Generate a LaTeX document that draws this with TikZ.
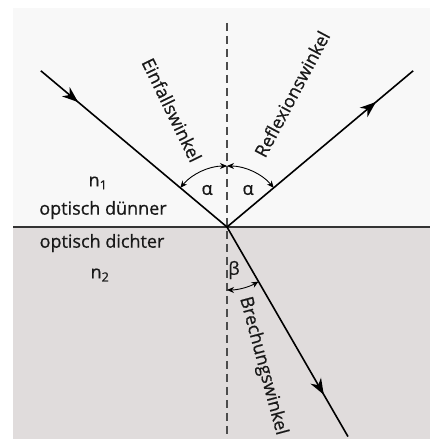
\documentclass[tikz,border=0pt]{standalone}
\usepackage{fontspec}
\setmainfont{Open Sans}[FakeBold=0.7]
\usetikzlibrary{arrows.meta,decorations.markings}
\definecolor{duenn}{HTML}{F8F8F8}
\definecolor{dicht}{HTML}{E0DCDC}
\begin{document}
\begin{tikzpicture}[x=1pt,y=1pt,font=\fontsize{18}{20}\selectfont,text=black!90]
			\useasboundingbox (0,0)rectangle(430,439);
			\tikzset{strahl/.style={line width=1.6pt},
				pfeil/.style={postaction={decorate},decoration={markings,mark=at position #1 with {\arrow{Stealth[length=16pt,width=12pt,inset=5pt]}}}},
				winkel/.style={line width=0.9pt,{Stealth[length=7pt,width=6pt]}-{Stealth[length=7pt,width=6pt]}}}
			\fill[duenn](13,212)rectangle(430,431);
			\fill[dicht](13,0)rectangle(430,212);
			\coordinate (O) at (227,212);
			\coordinate (L) at (13,212);
			\coordinate (Rr) at (430,212);
			\coordinate (N1) at (227,416);
			\coordinate (N2) at (227,0);
			\path (O)++(140:243)coordinate(A) (O)++(40:243)coordinate(R) (O)++(-60:242)coordinate(B);
			\draw[line width=1.5pt,black!80](L)--(Rr);
			\draw[black!70,line width=1.4pt,dash pattern=on 8pt off 5pt](N1)--(N2);
			\draw[strahl,pfeil=0.2](A)--(O);
			\draw[strahl,pfeil=0.8](O)--(R);
			\draw[strahl,pfeil=0.8](O)--(B);
			% Winkel
			\draw[winkel](O)++(140:61)arc[start angle=140,end angle=90,radius=61];
			\draw[winkel](O)++(40:61)arc[start angle=40,end angle=90,radius=61];
			\draw[winkel](O)++(-90:63)arc[start angle=-90,end angle=-60,radius=63];
			\path(207,249)node(a1){α}(248,249)node(a2){α}(234,169)node(b1){β};
			\path(98,256)node(n1){n\textsubscript{1}}(103,229)node(od1){optisch dünner}
				(102,196)node(od2){optisch dichter}(100,164)node(n2){n\textsubscript{2}};
			\path(172,329)node[rotate=-64](ew){Einfallswinkel}
				(292,345)node[rotate=62](rw){Reflexionswinkel}
				(263,73)node[rotate=-75](bw){Brechungswinkel};
		\end{tikzpicture}
\end{document}
